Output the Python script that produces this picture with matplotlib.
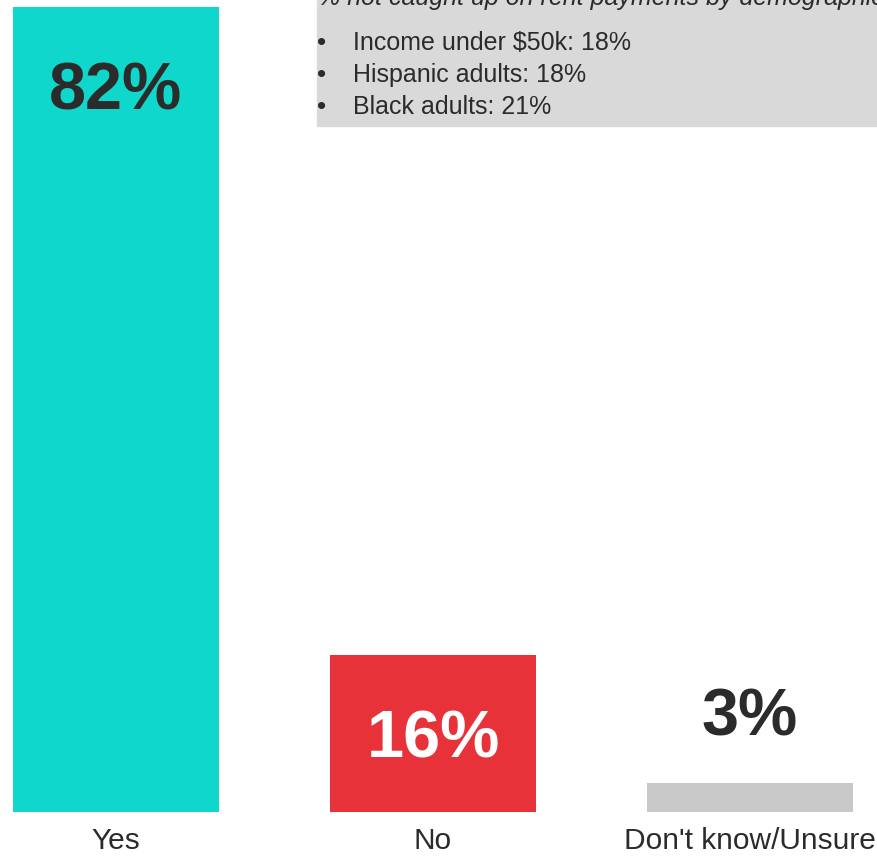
import matplotlib.pyplot as plt
from matplotlib.patches import Rectangle

plt.rcParams["font.family"] = ["Liberation Sans", "DejaVu Sans"]

categories = ["Yes", "No", "Don't know/Unsure"]
values = [82, 16, 3]
bar_colors = ["#10D7CB", "#E8323A", "#C8C8C8"]
label_colors = ["#2B2B2B", "#FFFFFF", "#2B2B2B"]
label_inside = [True, True, False]

note_title = "% not caught up on rent payments by demographic"
note_items = ["Income under $50k: 18%", "Hispanic adults: 18%", "Black adults: 21%"]

W, H = 877, 856
fig = plt.figure(figsize=(W / 100, H / 100), dpi=100)
ax = fig.add_axes([0, (H - 812) / H, 1, 812 / H])

px_per_unit = 317
x = list(range(len(categories)))
ax.bar(x, values, width=206 / px_per_unit, color=bar_colors)
ax.set_xlim(-116 / px_per_unit, (W - 116) / px_per_unit)
ax.set_ylim(0, 812 / 9.817)

for xi, v, c, inside in zip(x, values, label_colors, label_inside):
    offset = -74 if inside else 34
    ax.annotate(f"{v}%", (xi, v), xytext=(0, offset), textcoords="offset points",
                ha="center", va="baseline", fontsize=48, fontweight="bold", color=c)

ax.set_xticks(x)
ax.set_xticklabels(categories, fontsize=21.5, color="#2B2B2B")
ax.tick_params(axis="x", length=0, pad=10.5)
ax.set_yticks([])
for s in ax.spines.values():
    s.set_visible(False)

# grey note box in the upper right
fig.patches.append(Rectangle((317 / W, 1 - 126 / H), 1, 126 / H,
                             transform=fig.transFigure, color="#D9D9D9", zorder=5))
fig.text(318 / W, 1 - 5 / H, note_title, fontsize=18, style="italic",
         color="#2B2B2B", va="baseline", ha="left", zorder=6)
for i, item in enumerate(note_items):
    yb = 1 - (50 + 32 * i) / H
    fig.text(317 / W, yb, "\u2022", fontsize=19, color="#2B2B2B", va="baseline", zorder=6)
    fig.text(353 / W, yb, item, fontsize=18, color="#2B2B2B", va="baseline", zorder=6)

fig.savefig("out.png", dpi=100)
